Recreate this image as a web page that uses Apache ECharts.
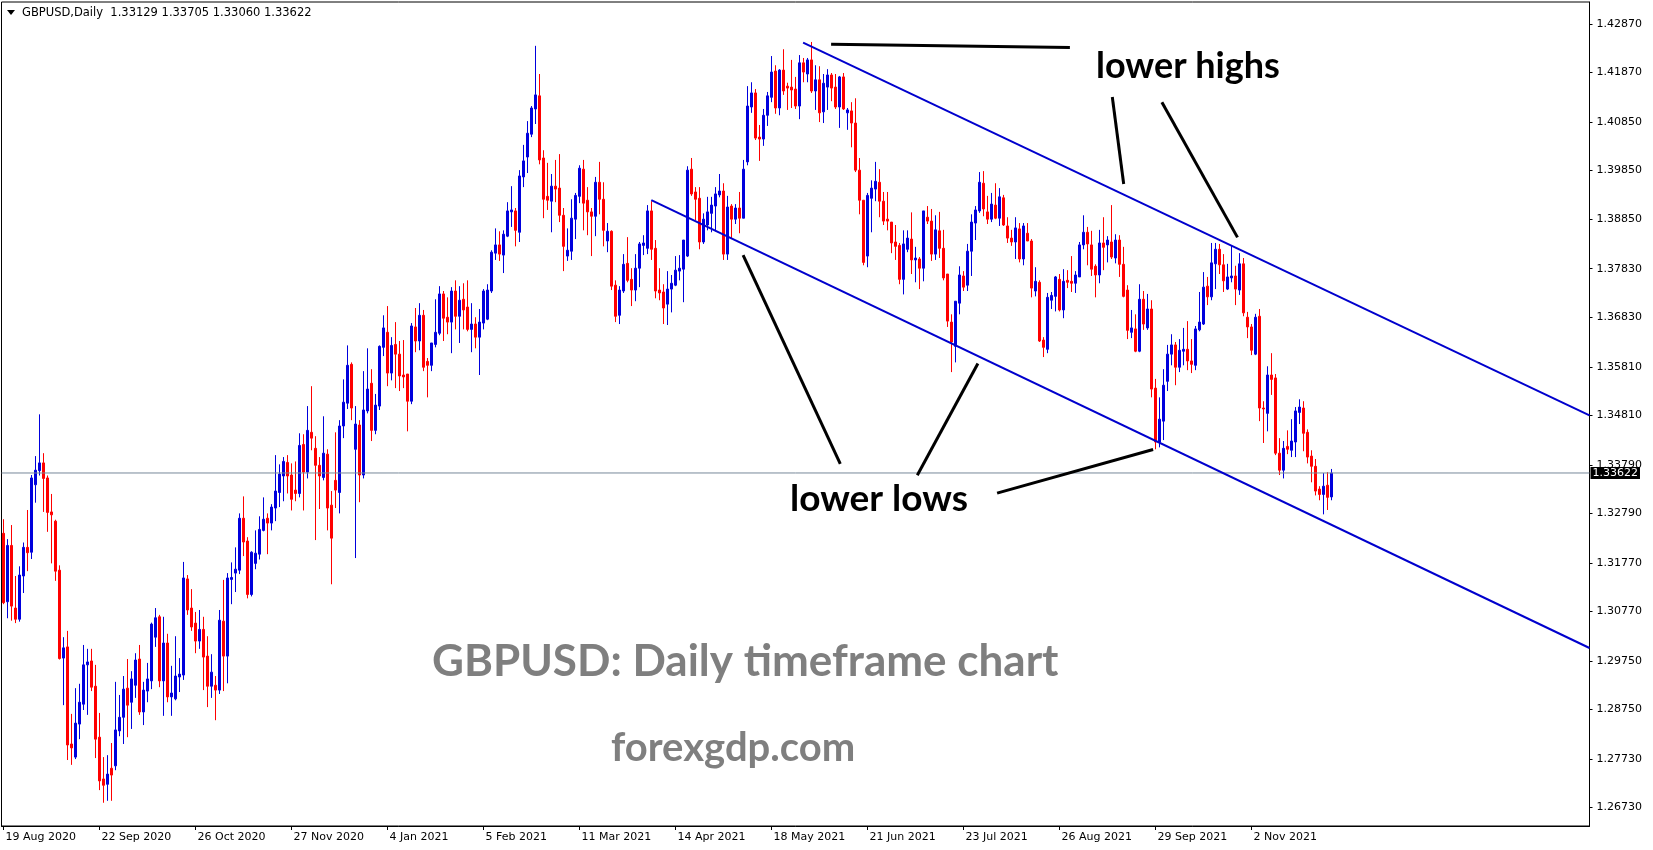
<!DOCTYPE html>
<html>
<head>
<meta charset="utf-8">
<script src="https://cdn.jsdelivr.net/npm/echarts@6/dist/echarts.min.js"></script>
<style>
html,body{margin:0;padding:0;background:#fff;}
#chart{width:1653px;height:850px;}
</style>
</head>
<body>
<div id="chart"></div>
<script>
// ---- DATA (GBPUSD daily) ----
const openP = [
1.3238,1.3097,1.3213,1.3084,1.3061,1.3150,1.3209,1.3199,1.3338,1.3367,
1.3383,1.3352,1.3282,1.3263,1.3162,1.2981,1.3004,1.2804,1.2777,1.2845,
1.2886,1.2967,1.2975,1.2923,1.2818,1.2732,1.2721,1.2754,1.2759,1.2831,
1.2859,1.2919,1.2890,1.2925,1.2979,1.2870,1.2913,1.2934,1.3024,1.3066,
1.2934,1.3012,1.2901,1.2897,1.2942,1.2946,1.3144,1.3084,1.3053,1.3016,
1.3040,1.2985,1.2923,1.2925,1.2915,1.3057,1.2985,1.3143,1.3156,1.3162,
1.3269,1.3222,1.3112,1.3176,1.3195,1.3244,1.3269,1.3259,1.3290,1.3322,
1.3356,1.3384,1.3358,1.3327,1.3320,1.3421,1.3364,1.3446,1.3413,1.3378,
1.3353,1.3401,1.3296,1.3347,1.3322,1.3459,1.3506,1.3586,1.3411,1.3461,
1.3358,1.3490,1.3547,1.3450,1.3500,1.3621,1.3652,1.3568,1.3627,1.3607,
1.3564,1.3566,1.3510,1.3663,1.3634,1.3687,1.3592,1.3584,1.3627,1.3650,
1.3731,1.3683,1.3673,1.3737,1.3685,1.3720,1.3704,1.3658,1.3669,1.3642,
1.3671,1.3679,1.3737,1.3815,1.3832,1.3811,1.3850,1.3900,1.3902,1.3858,
1.3972,1.4013,1.4060,1.4112,1.4139,1.4011,1.3932,1.3922,1.3953,1.3949,
1.3893,1.3809,1.3819,1.3885,1.3932,1.3988,1.3924,1.3900,1.3891,1.3961,
1.3926,1.3840,1.3860,1.3749,1.3687,1.3737,1.3794,1.3761,1.3739,1.3784,
1.3831,1.3825,1.3902,1.3825,1.3739,1.3735,1.3710,1.3741,1.3749,1.3778,
1.3782,1.3809,1.3988,1.3941,1.3928,1.3838,1.3873,1.3897,1.3912,1.3935,
1.3943,1.3813,1.3912,1.3885,1.3908,1.3887,1.4003,1.4116,1.4145,1.4054,
1.4050,1.4099,1.4136,1.4190,1.4114,1.4192,1.4159,1.4157,1.4153,1.4118,
1.4207,1.4184,1.4213,1.4149,1.4172,1.4106,1.4157,1.4182,1.4157,1.4116,
1.4178,1.4104,1.4108,1.4083,1.3986,1.3924,1.3809,1.3928,1.3947,1.3961,
1.3922,1.3885,1.3879,1.3838,1.3831,1.3761,1.3823,1.3844,1.3801,1.3803,
1.3784,1.3889,1.3881,1.3813,1.3861,1.3825,1.3772,1.3673,1.3623,1.3712,
1.3768,1.3749,1.3819,1.3877,1.3902,1.3959,1.3900,1.3885,1.3914,1.3887,
1.3929,1.3871,1.3846,1.3838,1.3865,1.3803,1.3856,1.3840,1.3737,1.3755,
1.3636,1.3617,1.3718,1.3726,1.3761,1.3698,1.3759,1.3757,1.3753,1.3766,
1.3832,1.3858,1.3832,1.3788,1.3770,1.3836,1.3832,1.3838,1.3805,1.3842,
1.3792,1.3739,1.3652,1.3659,1.3613,1.3720,1.3661,1.3700,1.3537,1.3426,
1.3469,1.3551,1.3607,1.3626,1.3580,1.3613,1.3617,1.3593,1.3584,1.3657,
1.3669,1.3747,1.3725,1.3793,1.3823,1.3791,1.3741,1.3764,1.3768,1.3739,
1.3793,1.3683,1.3663,1.3607,1.3685,1.3496,1.3485,1.3564,1.3558,1.3403,
1.3368,1.3417,1.3409,1.3426,1.3487,1.3496,1.3446,1.3397,1.3376,1.3329,
1.3318,1.3337,1.33129
];
const highP = [
1.3267,1.3226,1.3255,1.3150,1.3170,1.3219,1.3286,1.3358,1.3397,1.3483,
1.3403,1.3357,1.3319,1.3266,1.3172,1.3024,1.3037,1.2866,1.2919,1.2928,
1.3008,1.3000,1.3000,1.2967,1.2868,1.2777,1.2781,1.2806,1.2932,1.2905,
1.2944,1.2979,1.2954,1.2991,1.3008,1.2932,1.2971,1.3054,1.3084,1.3070,
1.3066,1.3031,1.2965,1.3026,1.2981,1.3179,1.3152,1.3123,1.3076,1.3080,
1.3066,1.3026,1.2989,1.2944,1.3080,1.3142,1.3156,1.3178,1.3209,1.3279,
1.3314,1.3230,1.3201,1.3244,1.3273,1.3312,1.3279,1.3298,1.3399,1.3380,
1.3395,1.3399,1.3382,1.3386,1.3444,1.3442,1.3500,1.3541,1.3438,1.3395,
1.3479,1.3411,1.3325,1.3446,1.3471,1.3555,1.3625,1.3590,1.3500,1.3471,
1.3572,1.3619,1.3576,1.3525,1.3625,1.3687,1.3706,1.3642,1.3673,1.3634,
1.3636,1.3566,1.3671,1.3702,1.3712,1.3698,1.3599,1.3630,1.3720,1.3747,
1.3737,1.3724,1.3745,1.3759,1.3747,1.3753,1.3759,1.3712,1.3683,1.3700,
1.3741,1.3751,1.3821,1.3866,1.3860,1.3862,1.3920,1.3953,1.3908,1.3986,
1.4038,1.4087,1.4118,1.4242,1.4184,1.4027,1.4001,1.3978,1.4007,1.4019,
1.3908,1.3866,1.3926,1.3939,1.3996,1.4007,1.3951,1.3908,1.3972,1.4003,
1.3961,1.3877,1.3862,1.3759,1.3747,1.3813,1.3848,1.3784,1.3813,1.3838,
1.3852,1.3914,1.3922,1.3842,1.3784,1.3751,1.3778,1.3770,1.3809,1.3811,
1.3842,1.3994,1.4011,1.3951,1.3951,1.3897,1.3931,1.3931,1.3951,1.3978,
1.3959,1.3933,1.3916,1.3916,1.3941,1.4007,1.4159,1.4167,1.4153,1.4079,
1.4112,1.4147,1.4221,1.4202,1.4194,1.4235,1.4166,1.4213,1.4178,1.4223,
1.4217,1.4217,1.4250,1.4202,1.4200,1.4184,1.4194,1.4186,1.4184,1.4180,
1.4186,1.4114,1.4126,1.4134,1.4011,1.3924,1.3939,1.3965,1.4003,1.3988,
1.3941,1.3941,1.3879,1.3873,1.3836,1.3862,1.3862,1.3899,1.3828,1.3807,
1.3902,1.3912,1.3906,1.3893,1.3900,1.3863,1.3772,1.3689,1.3716,1.3788,
1.3778,1.3834,1.3895,1.3912,1.3982,1.3984,1.3933,1.3939,1.3959,1.3949,
1.3935,1.3889,1.3863,1.3889,1.3877,1.3877,1.3877,1.3844,1.3786,1.3759,
1.3642,1.3733,1.3735,1.3768,1.3772,1.3782,1.3780,1.3809,1.3778,1.3838,
1.3893,1.3869,1.3861,1.3792,1.3863,1.3889,1.3850,1.3914,1.3854,1.3852,
1.3828,1.3749,1.3698,1.3689,1.3751,1.3737,1.3731,1.3718,1.3556,1.3518,
1.3576,1.3626,1.3648,1.3632,1.3638,1.3661,1.3675,1.3638,1.3665,1.3735,
1.3776,1.3766,1.3836,1.3836,1.3834,1.3813,1.3793,1.3830,1.3789,1.3815,
1.3805,1.3694,1.3669,1.3690,1.3700,1.3510,1.3582,1.3609,1.3566,1.3434,
1.3428,1.3450,1.3473,1.3498,1.3514,1.3510,1.3452,1.3409,1.3391,1.3335,
1.3362,1.3364,1.33705
];
const lowP = [
1.3092,1.3063,1.3058,1.3053,1.3056,1.3115,1.3160,1.3185,1.3301,1.3357,
1.3282,1.3241,1.3176,1.3140,1.2978,1.2884,1.2771,1.2761,1.2773,1.2814,
1.2874,1.2864,1.2913,1.2775,1.2709,1.2683,1.2687,1.2687,1.2750,1.2820,
1.2804,1.2818,1.2835,1.2899,1.2864,1.2843,1.2890,1.2917,1.3004,1.2921,
1.2862,1.2890,1.2862,1.2894,1.2911,1.2936,1.3070,1.3037,1.2991,1.3000,
1.2915,1.2880,1.2899,1.2853,1.2907,1.2913,1.2929,1.3092,1.3117,1.3154,
1.3191,1.3104,1.3108,1.3164,1.3184,1.3242,1.3195,1.3244,1.3263,1.3292,
1.3304,1.3320,1.3285,1.3304,1.3312,1.3285,1.3351,1.3409,1.3224,1.3288,
1.3347,1.3244,1.3133,1.3290,1.3279,1.3434,1.3494,1.3471,1.3187,1.3302,
1.3351,1.3485,1.3428,1.3442,1.3492,1.3603,1.3541,1.3553,1.3537,1.3531,
1.3537,1.3448,1.3504,1.3611,1.3615,1.3572,1.3518,1.3572,1.3621,1.3646,
1.3634,1.3648,1.3609,1.3658,1.3630,1.3658,1.3654,1.3611,1.3619,1.3564,
1.3658,1.3677,1.3733,1.3801,1.3799,1.3774,1.3848,1.3869,1.3829,1.3838,
1.3951,1.3980,1.4054,1.4081,1.3998,1.3887,1.3904,1.3858,1.3920,1.3879,
1.3778,1.3799,1.3801,1.3844,1.3918,1.3862,1.3852,1.3809,1.3850,1.3895,
1.3829,1.3817,1.3739,1.3673,1.3669,1.3733,1.3755,1.3706,1.3716,1.3745,
1.3811,1.3813,1.3801,1.3722,1.3718,1.3669,1.3667,1.3693,1.3747,1.3759,
1.3714,1.3807,1.3933,1.3883,1.3823,1.3834,1.3862,1.3858,1.3860,1.3930,
1.3801,1.3801,1.3844,1.3875,1.3856,1.3887,1.3996,1.4104,1.4048,1.4005,
1.4036,1.4077,1.4126,1.4102,1.4099,1.4141,1.4110,1.4114,1.4112,1.4091,
1.4167,1.4167,1.4145,1.4110,1.4085,1.4083,1.4110,1.4128,1.4112,1.4073,
1.4110,1.4069,1.4033,1.3982,1.3895,1.3790,1.3786,1.3858,1.3922,1.3889,
1.3873,1.3862,1.3815,1.3801,1.3751,1.3730,1.3817,1.3772,1.3755,1.3741,
1.3757,1.3875,1.3799,1.3801,1.3805,1.3759,1.3663,1.3570,1.3590,1.3689,
1.3737,1.3737,1.3768,1.3842,1.3898,1.3891,1.3875,1.3879,1.3885,1.3871,
1.3871,1.3836,1.3830,1.3803,1.3796,1.3790,1.3840,1.3724,1.3726,1.3632,
1.3601,1.3609,1.3700,1.3695,1.3695,1.3681,1.3743,1.3735,1.3733,1.3766,
1.3823,1.3790,1.3768,1.3724,1.3753,1.3780,1.3796,1.3803,1.3794,1.3766,
1.3724,1.3638,1.3640,1.3611,1.3611,1.3657,1.3657,1.3518,1.3411,1.3415,
1.3430,1.3531,1.3584,1.3543,1.3570,1.3584,1.3574,1.3568,1.3574,1.3654,
1.3667,1.3708,1.3718,1.3741,1.3772,1.3735,1.3739,1.3755,1.3708,1.3729,
1.3685,1.3640,1.3605,1.3605,1.3469,1.3424,1.3448,1.3523,1.3399,1.3358,
1.3351,1.3401,1.3395,1.3395,1.3463,1.3407,1.3382,1.3343,1.3316,1.3306,
1.3277,1.3286,1.33060
];
const closeP = [
1.3095,1.3213,1.3088,1.3061,1.3152,1.3209,1.3198,1.3352,1.3368,1.3383,
1.3351,1.3281,1.3276,1.3160,1.2980,1.3002,1.2802,1.2796,1.2847,1.2890,
1.2967,1.2973,1.2921,1.2814,1.2728,1.2719,1.2742,1.2740,1.2833,1.2859,
1.2917,1.2884,1.2938,1.2977,1.2870,1.2915,1.2938,1.3051,1.3064,1.2934,
1.3012,1.2901,1.2909,1.2944,1.2948,1.3146,1.3080,1.3045,1.3016,1.3040,
1.2983,1.2923,1.2952,1.2915,1.3059,1.2985,1.3146,1.3147,1.3164,1.3269,
1.3220,1.3112,1.3199,1.3197,1.3246,1.3267,1.3259,1.3292,1.3325,1.3360,
1.3386,1.3356,1.3308,1.3320,1.3419,1.3364,1.3450,1.3434,1.3378,1.3356,
1.3403,1.3290,1.3228,1.3327,1.3459,1.3508,1.3584,1.3496,1.3463,1.3358,
1.3492,1.3535,1.3450,1.3502,1.3623,1.3661,1.3568,1.3625,1.3607,1.3562,
1.3560,1.3510,1.3665,1.3634,1.3687,1.3580,1.3584,1.3630,1.3652,1.3731,
1.3681,1.3673,1.3737,1.3685,1.3718,1.3698,1.3658,1.3669,1.3642,1.3673,
1.3737,1.3739,1.3817,1.3832,1.3813,1.3854,1.3902,1.3904,1.3862,1.3974,
1.4005,1.4062,1.4114,1.4141,1.4007,1.3926,1.3924,1.3953,1.3947,1.3893,
1.3829,1.3821,1.3887,1.3934,1.3990,1.3918,1.3900,1.3891,1.3961,1.3926,
1.3862,1.3860,1.3747,1.3685,1.3739,1.3792,1.3759,1.3739,1.3784,1.3834,
1.3836,1.3902,1.3823,1.3737,1.3733,1.3702,1.3741,1.3753,1.3780,1.3784,
1.3842,1.3986,1.3937,1.3926,1.3838,1.3885,1.3900,1.3914,1.3937,1.3943,
1.3813,1.3910,1.3885,1.3908,1.3887,1.3988,1.4118,1.4145,1.4052,1.4050,
1.4099,1.4139,1.4188,1.4114,1.4192,1.4149,1.4155,1.4151,1.4118,1.4207,
1.4188,1.4213,1.4149,1.4172,1.4104,1.4165,1.4182,1.4155,1.4116,1.4178,
1.4112,1.4110,1.4083,1.3986,1.3924,1.3796,1.3934,1.3949,1.3963,1.3922,
1.3881,1.3881,1.3836,1.3829,1.3761,1.3834,1.3846,1.3801,1.3805,1.3784,
1.3902,1.3881,1.3813,1.3863,1.3825,1.3764,1.3675,1.3632,1.3716,1.3770,
1.3745,1.3819,1.3879,1.3904,1.3961,1.3906,1.3885,1.3916,1.3887,1.3931,
1.3873,1.3846,1.3838,1.3867,1.3803,1.3871,1.3840,1.3743,1.3757,1.3634,
1.3621,1.3724,1.3728,1.3766,1.3698,1.3757,1.3755,1.3753,1.3770,1.3832,
1.3858,1.3834,1.3782,1.3770,1.3836,1.3827,1.3842,1.3807,1.3842,1.3792,
1.3726,1.3656,1.3661,1.3613,1.3720,1.3669,1.3700,1.3535,1.3426,1.3473,
1.3543,1.3607,1.3626,1.3580,1.3615,1.3617,1.3593,1.3586,1.3659,1.3673,
1.3745,1.3725,1.3795,1.3823,1.3791,1.3758,1.3766,1.3768,1.3741,1.3793,
1.3692,1.3663,1.3615,1.3683,1.3496,1.3494,1.3564,1.3555,1.3403,1.3368,
1.3413,1.3411,1.3428,1.3490,1.3498,1.3444,1.3395,1.3376,1.3325,1.3318,
1.3335,1.3312,1.33622
];
const xTickLabels = ['19 Aug 2020','22 Sep 2020','26 Oct 2020','27 Nov 2020','4 Jan 2021','5 Feb 2021','11 Mar 2021','14 Apr 2021','18 May 2021','21 Jun 2021','23 Jul 2021','26 Aug 2021','29 Sep 2021','2 Nov 2021'];
const yTickLabels = ['1.42870','1.41870','1.40850','1.39850','1.38850','1.37830','1.36830','1.35810','1.34810','1.33790','1.32790','1.31770','1.30770','1.29750','1.28750','1.27730','1.26730'];
const lastPrice = 1.33622;
const headerText = 'GBPUSD,Daily  1.33129 1.33705 1.33060 1.33622';
// drawn objects, [barIndex, price]
const upperChannel = [[199.9, 1.42485], [396.5, 1.34810]];
const lowerChannel = [[161.95, 1.39244], [396.5, 1.30017]];
const topMarker = [[206.9, 1.42452], [266.6, 1.42388]];
const highArrow1 = [[277.2, 1.41366], [280.05, 1.39573]];
const highArrow2 = [[289.6, 1.41257], [308.5, 1.38475]];
const lowArrow1 = [[209.2, 1.33808], [184.9, 1.38110]];
const lowArrow2 = [[228.45, 1.33577], [243.6, 1.35879]];
const lowArrow3 = [[248.4, 1.33207], [287.4, 1.34105]];

// ---- BUILD ----
const SLOTS = 397;
const categories = [];
for (let i = 0; i < SLOTS; i++) categories.push(String(i));
const candles = openP.map((o, i) => [o, closeP[i], lowP[i], highP[i]]);
const LABEL_EVERY = 24;
const isTick = (idx) => idx % LABEL_EVERY === 0 && idx / LABEL_EVERY < xTickLabels.length;

function lineSeries(pts, color, width) {
  return {
    type: 'line', xAxisIndex: 1, yAxisIndex: 0, data: pts,
    symbol: 'none', silent: true, z: 6,
    lineStyle: { color: color, width: width, cap: 'butt' }
  };
}

const priceLine = {
  type: 'line', xAxisIndex: 1, yAxisIndex: 0, symbol: 'none', silent: true, z: 4,
  data: [[-0.5, lastPrice], [SLOTS - 0.5, lastPrice]],
  lineStyle: { color: '#778899', width: 1 },
  endLabel: {
    show: true, distance: 1, formatter: () => lastPrice.toFixed(5),
    backgroundColor: '#000', color: '#fff', fontFamily: 'DejaVu Sans', fontSize: 11, padding: [1, 2, 0, 2]
  }
};

const chart = echarts.init(document.getElementById('chart'), null, { renderer: 'canvas' });
const axisFont = { fontFamily: 'DejaVu Sans', fontSize: 11, color: '#000' };
chart.setOption({
  animation: false,
  backgroundColor: '#fff',
  grid: { left: 1.5, right: 63.5, top: 2, bottom: 24, show: true, borderColor: '#000', borderWidth: 1, backgroundColor: '#fff' },
  xAxis: [{
    type: 'category', data: categories, boundaryGap: true,
    axisLine: { show: true, lineStyle: { color: '#000', width: 1 } },
    axisTick: { show: true, alignWithLabel: true, length: 4, interval: (idx) => isTick(idx), lineStyle: { color: '#000' } },
    axisLabel: Object.assign({
      interval: (idx) => isTick(idx), align: 'left', margin: 6, padding: [0, 0, 0, 2],
      formatter: (v, idx) => xTickLabels[idx / LABEL_EVERY] || ''
    }, axisFont),
    splitLine: { show: false }
  }, {
    type: 'value', min: -0.5, max: SLOTS - 0.5, show: false
  }],
  yAxis: {
    type: 'value', position: 'right', min: 1.26351, max: 1.43323, scale: true,
    axisLine: { show: true, onZero: false, lineStyle: { color: '#000', width: 1 } },
    axisTick: { show: true, length: 3, customValues: yTickLabels.map(Number), lineStyle: { color: '#000' } },
    axisLabel: Object.assign({ margin: 7, customValues: yTickLabels.map(Number), formatter: (v) => v.toFixed(5) }, axisFont),
    splitLine: { show: false }
  },
  series: [{
    type: 'candlestick', data: candles, barWidth: 2, z: 3,
    itemStyle: { color: '#0000DD', color0: '#FF0000', borderColor: '#0000DD', borderColor0: '#FF0000', borderWidth: 1 }
  },
    priceLine,
    lineSeries(upperChannel, '#0000CD', 2),
    lineSeries(lowerChannel, '#0000CD', 2),
    lineSeries(topMarker, '#000', 3),
    lineSeries(highArrow1, '#000', 3),
    lineSeries(highArrow2, '#000', 3),
    lineSeries(lowArrow1, '#000', 3),
    lineSeries(lowArrow2, '#000', 3),
    lineSeries(lowArrow3, '#000', 3)
  ],
  graphic: [
    { type: 'polygon', shape: { points: [[7, 10], [15, 10], [11, 15]] }, style: { fill: '#000' }, z: 10 },
    { type: 'text', x: 22, y: 13, z: 10, style: { text: headerText, fill: '#000', font: '11.5px "DejaVu Sans"', textVerticalAlign: 'middle' } },
    { type: 'text', x: 1096, y: 66, z: 10, style: { text: 'lower highs', fill: '#000', font: 'bold 36px Lato', textVerticalAlign: 'middle' } },
    { type: 'text', x: 790, y: 499, z: 10, style: { text: 'lower lows', fill: '#000', font: 'bold 37px Lato', textVerticalAlign: 'middle' } },
    { type: 'text', x: 432, y: 662, z: 10, style: { text: 'GBPUSD: Daily timeframe chart', fill: '#7f7f7f', font: 'bold 44px Lato', textVerticalAlign: 'middle' } },
    { type: 'text', x: 611, y: 748, z: 10, style: { text: 'forexgdp.com', fill: '#7f7f7f', font: 'bold 40px Lato', textVerticalAlign: 'middle' } }
  ]
});
</script>
</body>
</html>
